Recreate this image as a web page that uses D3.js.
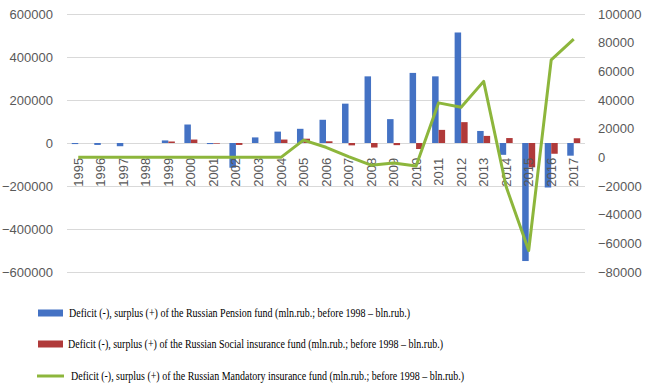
<!DOCTYPE html>
<meta charset="utf-8">
<style>
body { margin: 0; background: #fff; }
svg { background-color: #fff; }
.axis path { display: none; }
.axis line { stroke: #d9d9d9; shape-rendering: crispEdges; }
.axis text { font: 13px "Liberation Sans", sans-serif; fill: #595959; }
.xlab text { font: 13px "Liberation Sans", sans-serif; fill: #595959; }
.legend text { font: 13px "Liberation Serif", serif; fill: #000; }
</style>
<svg width="654" height="386"></svg>
<script src="https://d3js.org/d3.v7.min.js"></script>
<script>

var years = ["1995","1996","1997","1998","1999","2000","2001","2002","2003","2004","2005","2006",
             "2007","2008","2009","2010","2011","2012","2013","2014","2015","2016","2017"];

// Pension fund (left axis)
var pension = [-5000,-9000,-15000,0,12000,86000,-5000,-115000,26000,53000,66000,108000,
               183000,310000,111000,326000,310000,514000,56000,-55000,-549000,-207000,-59000];

// Social insurance fund (left axis)
var social = [0,0,0,0,7000,16000,-3000,-9000,0,16000,20000,8000,
              -11000,-21000,-10000,-28000,61000,97000,33000,23000,-113000,-50000,22000];

// Mandatory insurance fund (right axis)
var mandatory = [0,0,0,0,0,0,0,0,0,0,12000,7000,
                 500,-5500,-4000,-6000,38000,35000,53000,-20500,-65000,68000,82500];

var leftTicks = [-600000,-400000,-200000,0,200000,400000,600000];
var rightTicks = [-80000,-60000,-40000,-20000,0,20000,40000,60000,80000,100000];

var legendLabels = [
  "Deficit (-), surplus (+) of the Russian Pension fund (mln.rub.; before 1998 \u2013 bln.rub.)",
  "Deficit (-), surplus (+) of the Russian Social insurance fund (mln.rub.; before 1998 \u2013 bln.rub.)",
  "Deficit (-), surplus (+) of the Russian Mandatory insurance fund (mln.rub.; before 1998 \u2013 bln.rub.)"
];

var colors = ["#4472c4", "#b03a3a", "#8db63c"];

var svg = d3.select("svg"),
    plotL = 67, plotR = 585, plotT = 14, plotB = 272;

var x = d3.scaleBand().domain(years).range([plotL, plotR]);
var y = d3.scaleLinear().domain([-600000, 600000]).range([plotB, plotT]);
var y2 = d3.scaleLinear().domain([-80000, 100000]).range([plotB, plotT]);

// grid + left labels
svg.append("g")
    .attr("class", "axis")
    .attr("transform", "translate(" + plotL + ",0)")
    .call(d3.axisLeft(y).tickValues(leftTicks).tickSize(-(plotR - plotL)).tickFormat(d3.format("d")))
  .selectAll("text")
    .attr("x", 53 - plotL);

svg.append("g")
    .attr("class", "axis")
    .attr("transform", "translate(" + plotR + ",0)")
    .call(d3.axisRight(y2).tickValues(rightTicks).tickSize(0).tickPadding(13).tickFormat(d3.format("d")));

var bw = 6.5;

svg.append("g").selectAll("rect")
    .data(pension).enter().append("rect")
    .attr("x", function(d, i) { return x(years[i]) + x.bandwidth() / 2 - bw; })
    .attr("y", function(d) { return y(Math.max(0, d)); })
    .attr("width", bw)
    .attr("height", function(d) { return Math.abs(y(d) - y(0)); })
    .style("fill", colors[0]);

svg.append("g").selectAll("rect")
    .data(social).enter().append("rect")
    .attr("x", function(d, i) { return x(years[i]) + x.bandwidth() / 2; })
    .attr("y", function(d) { return y(Math.max(0, d)); })
    .attr("width", bw)
    .attr("height", function(d) { return Math.abs(y(d) - y(0)); })
    .style("fill", colors[1]);

// year labels, rotated, hung from the secondary zero
svg.append("g")
    .attr("class", "xlab")
  .selectAll("text")
    .data(years).enter().append("text")
    .attr("transform", function(d) { return "translate(" + (x(d) + x.bandwidth() / 2) + "," + (y2(0) + 0.5) + ") rotate(-90)"; })
    .attr("dy", "0.35em")
    .style("text-anchor", "end")
    .text(function(d) { return d; });

var line = d3.line()
    .x(function(d, i) { return x(years[i]) + x.bandwidth() / 2; })
    .y(function(d) { return y2(d); });

svg.append("path")
    .datum(mandatory)
    .attr("d", line)
    .style("fill", "none")
    .style("stroke", colors[2])
    .style("stroke-width", 3)
    .style("stroke-linejoin", "round");

// legend
var rowsY = [313, 344, 376];
var widths = [341, 375, 393];
var textX = [69, 68, 71];

var lg = svg.append("g").attr("class", "legend");

lg.append("rect").attr("x", 38).attr("y", rowsY[0] - 3.5).attr("width", 25).attr("height", 7).style("fill", colors[0]);
lg.append("rect").attr("x", 38).attr("y", rowsY[1] - 3.5).attr("width", 25).attr("height", 7).style("fill", colors[1]);
lg.append("line").attr("x1", 37).attr("x2", 64).attr("y1", rowsY[2]).attr("y2", rowsY[2])
    .style("stroke", colors[2]).style("stroke-width", 3);

lg.selectAll("text")
    .data(legendLabels).enter().append("text")
    .attr("x", function(d, i) { return textX[i]; })
    .attr("y", function(d, i) { return rowsY[i] + 4; })
    .attr("textLength", function(d, i) { return widths[i]; })
    .attr("lengthAdjust", "spacingAndGlyphs")
    .text(function(d) { return d; });

</script>
